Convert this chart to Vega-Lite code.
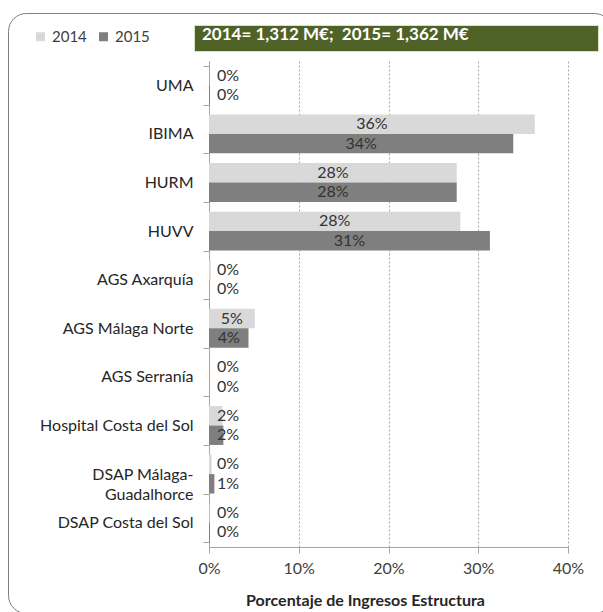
{
  "$schema": "https://vega.github.io/schema/vega-lite/v6.json",
  "width": 359,
  "height": 486,
  "autosize": {"type": "none"},
  "padding": {"left": 209, "top": 61, "right": 35, "bottom": 65},
  "background": "white",
  "config": {"view": {"stroke": null}, "font": "Lato"},
  "data": {
    "values": [
      {"cat": "UMA", "year": "2014", "v": 0.0},
      {"cat": "UMA", "year": "2015", "v": 0.001},
      {"cat": "IBIMA", "year": "2014", "v": 0.363},
      {"cat": "IBIMA", "year": "2015", "v": 0.339},
      {"cat": "HURM", "year": "2014", "v": 0.276},
      {"cat": "HURM", "year": "2015", "v": 0.276},
      {"cat": "HUVV", "year": "2014", "v": 0.280},
      {"cat": "HUVV", "year": "2015", "v": 0.313},
      {"cat": "AGS Axarquía", "year": "2014", "v": 0.002},
      {"cat": "AGS Axarquía", "year": "2015", "v": 0.0},
      {"cat": "AGS Málaga Norte", "year": "2014", "v": 0.051},
      {"cat": "AGS Málaga Norte", "year": "2015", "v": 0.044},
      {"cat": "AGS Serranía", "year": "2014", "v": 0.0},
      {"cat": "AGS Serranía", "year": "2015", "v": 0.0},
      {"cat": "Hospital Costa del Sol", "year": "2014", "v": 0.015},
      {"cat": "Hospital Costa del Sol", "year": "2015", "v": 0.016},
      {"cat": "DSAP Málaga-Guadalhorce", "year": "2014", "v": 0.003},
      {"cat": "DSAP Málaga-Guadalhorce", "year": "2015", "v": 0.006},
      {"cat": "DSAP Costa del Sol", "year": "2014", "v": 0.0005},
      {"cat": "DSAP Costa del Sol", "year": "2015", "v": 0.001}
    ]
  },
  "encoding": {
    "y": {
      "field": "cat",
      "type": "nominal",
      "sort": ["UMA", "IBIMA", "HURM", "HUVV", "AGS Axarquía", "AGS Málaga Norte", "AGS Serranía", "Hospital Costa del Sol", "DSAP Málaga-Guadalhorce", "DSAP Costa del Sol"],
      "scale": {"paddingInner": 0.2, "paddingOuter": 0.1},
      "axis": {
        "title": null,
        "tickBand": "extent",
        "labelFont": "Lato",
        "labelFontSize": 16,
        "labelColor": "#262626",
        "labelPadding": 10,
        "tickSize": 6,
        "tickColor": "#a6a6a6",
        "domainColor": "#a6a6a6",
        "labelLimit": 250,
        "labelLineHeight": 20,
        "labelExpr": "datum.value == 'DSAP Málaga-Guadalhorce' ? ['DSAP Málaga-', 'Guadalhorce'] : datum.value"
      }
    },
    "yOffset": {"field": "year", "type": "nominal", "sort": ["2014", "2015"], "scale": {"paddingInner": 0}}
  },
  "layer": [
    {
      "mark": {"type": "bar"},
      "encoding": {
        "x": {
          "field": "v",
          "type": "quantitative",
          "scale": {"domain": [0, 0.4], "nice": false},
          "axis": {
            "title": "Porcentaje de Ingresos Estructura",
            "format": ".0%",
            "values": [0, 0.1, 0.2, 0.3, 0.4],
            "labelFlush": false,
            "grid": true,
            "gridDash": [2, 2],
            "gridColor": "#a6a6a6",
            "domainColor": "#a6a6a6",
            "tickColor": "#a6a6a6",
            "tickSize": 6,
            "labelFont": "Lato",
            "labelFontSize": 16,
            "labelColor": "#404040",
            "labelPadding": 7,
            "titleFont": "Lato",
            "titleFontSize": 16,
            "titleFontWeight": "bold",
            "titleColor": "#262626",
            "titleX": 156,
            "titleY": 58,
            "titleAlign": "center",
            "titleBaseline": "alphabetic"
          }
        },
        "color": {
          "field": "year",
          "type": "nominal",
          "scale": {"domain": ["2014", "2015"], "range": ["#d9d9d9", "#7f7f7f"]},
          "legend": {
            "orient": "none",
            "legendX": -176,
            "legendY": -32,
            "direction": "horizontal",
            "title": null,
            "symbolType": "square",
            "symbolSize": 81,
            "symbolStrokeWidth": 0,
            "labelFont": "Lato",
            "labelFontSize": 15,
            "labelColor": "#404040",
            "labelOffset": 4,
            "columnPadding": 9
          }
        }
      }
    },
    {
      "transform": [{"filter": "datum.v < 0.04"}],
      "mark": {"type": "text", "align": "left", "dx": 8, "font": "Lato", "color": "#333333"},
      "encoding": {
        "x": {"datum": 0, "type": "quantitative", "scale": {"domain": [0, 0.4], "nice": false}, "axis": null},
        "text": {"field": "v", "type": "quantitative", "format": ".0%"},
        "size": {
          "datum": "frame",
          "type": "ordinal",
          "scale": {"range": [16, 16]},
          "legend": {
            "orient": "none",
            "legendX": -201,
            "legendY": -48,
            "title": null,
            "symbolOpacity": 0,
            "symbolStrokeWidth": 0,
            "labelExpr": "' '",
            "labelFontSize": 1,
            "padding": 298,
            "strokeColor": "#7f7f7f",
            "cornerRadius": 18
          }
        }
      }
    },
    {
      "transform": [{"filter": "datum.v >= 0.04"}],
      "mark": {"type": "text", "align": "center", "font": "Lato", "fontSize": 16, "color": "#333333"},
      "encoding": {
        "x": {"field": "v", "type": "quantitative", "scale": {"domain": [0, 0.8], "nice": false}, "axis": null},
        "text": {"field": "v", "type": "quantitative", "format": ".0%"},
        "opacity": {
          "datum": "banner",
          "type": "ordinal",
          "scale": {"range": [1]},
          "legend": {
            "orient": "none",
            "legendX": -15,
            "legendY": -36,
            "title": "2014= 1,312 M€;\u00a0 2015= 1,362 M€",
            "titleOrient": "left",
            "titlePadding": 117,
            "titleFont": "Lato",
            "titleFontWeight": "bold",
            "titleFontSize": 17,
            "titleColor": "white",
            "titleLimit": 500,
            "symbolSize": 0,
            "symbolOpacity": 0,
            "labelOffset": 0,
            "labelExpr": "' '",
            "labelFontSize": 1,
            "fillColor": "#4f6228",
            "strokeColor": "#d7e4bd",
            "padding": 8
          }
        }
      }
    }
  ],
  "resolve": {"scale": {"x": "independent"}}
}
